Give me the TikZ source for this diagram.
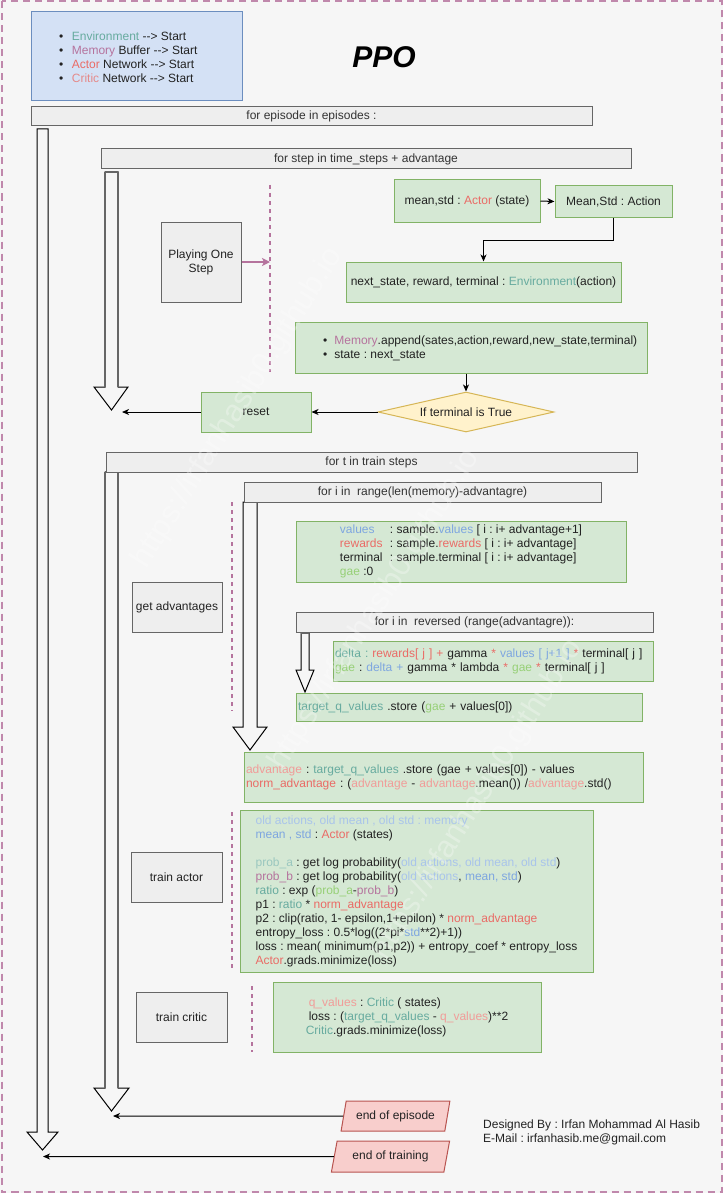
\documentclass[tikz,border=0pt]{standalone}
\usepackage{fontspec}
\setmainfont{Liberation Sans}
\usetikzlibrary{arrows.meta,shapes.geometric,calc}

\definecolor{bg}{HTML}{F6F6F6}
\definecolor{txt}{HTML}{222222}
\definecolor{bartxt}{HTML}{333333}
\definecolor{grnF}{HTML}{D5E8D4}
\definecolor{grnD}{HTML}{82B366}
\definecolor{gryF}{HTML}{EEEEEE}
\definecolor{gryD}{HTML}{666666}
\definecolor{bluF}{HTML}{D4E1F5}
\definecolor{bluD}{HTML}{6C8EBF}
\definecolor{yelF}{HTML}{FFF2CC}
\definecolor{yelD}{HTML}{D6B656}
\definecolor{redF}{HTML}{F8CECC}
\definecolor{redD}{HTML}{B85450}
\definecolor{cteal}{HTML}{67AB9F}
\definecolor{cmem}{HTML}{B5739D}
\definecolor{cred}{HTML}{EA6B66}
\definecolor{cpink}{HTML}{F19C99}
\definecolor{cblue}{HTML}{7EA6E0}
\definecolor{cold}{HTML}{A9C4EB}
\definecolor{cgae}{HTML}{97D077}
\definecolor{cproba}{HTML}{9AC7BF}
\definecolor{ccritic}{HTML}{E58A8A}

% hollow block arrow: shaft x1..x2 from ytop to yhead, head hx1..hx2, tip at ytip
\newcommand{\flowarrow}[8]{%
  \draw[#8] (#1,#3) -- (#2,#3) -- (#2,#4) -- (#6,#4) -- ({(#1+#2)/2},#7) -- (#5,#4) -- (#1,#4) -- cycle;}

\begin{document}
\frenchspacing
\begin{tikzpicture}[x=1pt,y=-1pt,
  every node/.style={font=\fontsize{12}{14}\selectfont, text=txt, inner sep=0pt},
  grnbox/.style={draw=grnD, fill=grnF, line width=1pt},
  grybox/.style={draw=gryD, fill=gryF, line width=1pt},
  loopbar/.style={grybox, text=bartxt},
  conn/.style={draw=black, line width=1pt, -{Stealth[length=7pt,width=6pt,inset=2pt]}},
  guide/.style={draw=cmem, line width=2pt, dash pattern=on 4pt off 4pt},
  bigarrow/.style={draw=black, line width=1pt, fill=bg, line join=miter},
  shaftedge/.style={draw=gryD, line width=2pt},
  endshape/.style={draw=redD, fill=redF, line width=1pt, shape=trapezium,
    trapezium left angle=70, trapezium right angle=110, trapezium stretches=true},
  watermark/.style={font=\fontsize{31}{31}\selectfont, text=white, opacity=0.3, rotate=58},
]

\useasboundingbox (0,0) rectangle (723,1193);
\fill[bg] (0,0) rectangle (723,1193);
\draw[draw=cmem!85, line width=2pt, dash pattern=on 7pt off 5pt] (1.5,1.5) rectangle (721.5,1191.5);

% ---- loop arrows ----
\flowarrow{37}{48}{129}{1132}{27}{58}{1150}{bigarrow}
\flowarrow{105}{118}{172}{387}{94}{128}{410}{bigarrow}
\draw[shaftedge] (105,172) -- (105,387) (118,172) -- (118,387) (105,172) -- (118,172);
\flowarrow{105}{118}{472}{1088}{94}{129}{1111}{bigarrow}
\draw[shaftedge] (105,472) -- (105,1088) (118,472) -- (118,1088) (105,472) -- (118,472);
\flowarrow{243}{257}{502}{727}{233}{267}{750}{bigarrow}
\flowarrow{301}{309}{632}{670}{296}{314}{692}{bigarrow}
\draw[draw=gryD, line width=2.5pt] (301,633) -- (309,633);

\coordinate (steploopend) at (122,412);
\coordinate (trainloopend) at (113,1116);
\coordinate (episodeloopend) at (43,1156.5);

% ---- dashed guides ----
\draw[guide] (270,185) -- (270,372);
\draw[guide] (232,502) -- (232,711);
\draw[guide] (232,812) -- (232,968);
\draw[guide] (252,986) -- (252,1052);

% ---- header ----
\node[draw=bluD, fill=bluF, line width=1pt, minimum width=211pt, minimum height=89pt] (init) at (136.5,56.5) {};
\node[anchor=west, align=left] (inittxt) at (59,57) {%
  \textbullet\hspace{8.5pt}\textcolor{cteal}{Environment} {-}{-}> Start\\
  \textbullet\hspace{8.5pt}\textcolor{cmem}{Memory} Buffer {-}{-}> Start\\
  \textbullet\hspace{8.5pt}\textcolor{cred}{Actor} Network {-}{-}> Start\\
  \textbullet\hspace{8.5pt}\textcolor{ccritic}{Critic} Network {-}{-}> Start};
\node[font=\fontsize{30}{36}\selectfont\bfseries\itshape, text=black] (title) at (384,57) {PPO};

\node[loopbar, minimum width=561pt, minimum height=19pt] (episodes) at (311.5,116.5) {for episode in episodes :};
\node[loopbar, minimum width=530pt, minimum height=20pt] (steps) at (366,159) {for step in time\_steps + advantage};

% ---- playing one step ----
\node[grybox, minimum width=80pt, minimum height=80pt, align=center] (play) at (201,262) {Playing One\\Step};
\coordinate (guidehit) at (270,262);
\draw[draw=cmem, line width=2pt, -{Stealth[length=8pt,width=8pt,inset=2pt]}] (play.east) -- (guidehit);

\node[grnbox, minimum width=146pt, minimum height=42pt] (astate) at (467,201) {mean,std : \textcolor{cred}{Actor} (state)};
\node[grnbox, minimum width=117pt, minimum height=31pt] (action) at (613.5,201.5) {Mean,Std : Action};
\node[grnbox, minimum width=275pt, minimum height=40pt] (env) at (483.5,282) {next\_state, reward, terminal : \textcolor{cteal}{Environment}(action)};
\node[grnbox, minimum width=352pt, minimum height=51pt] (mem) at (471,347.5) {};
\node[anchor=west, align=left] (memtxt) at (323,348.5) {%
  \textbullet\hspace{7pt}\textcolor{cmem}{Memory}.append(sates,action,reward,new\_state,terminal)\\
  \textbullet\hspace{7pt}state : next\_state};
\node[draw=yelD, fill=yelF, line width=1pt, shape=diamond, aspect=4.4, minimum width=176pt, minimum height=40pt] (term) at (466,412) {If terminal is True};
\node[grnbox, minimum width=110pt, minimum height=40pt] (reset) at (256,412) {reset};

\draw[conn] (astate.east) -- (action.west);
\draw[conn] (action.south) -- ++(0,23) -| (env.north);
\draw[conn] (term.north |- mem.south) -- (term.north);
\draw[conn] (term.west) -- (reset.east);
\draw[conn] (reset.west) -- (steploopend);

% ---- training ----
\node[loopbar, minimum width=531pt, minimum height=20pt] (train) at (371.5,462) {for t in train steps};
\node[loopbar, minimum width=357pt, minimum height=20pt] (range) at (422.5,492) {for i in\ \ range(len(memory)-advantagre)};
\node[grnbox, minimum width=330pt, minimum height=61pt, align=left] (sample) at (461,551.5) {%
  \makebox[50pt][l]{\textcolor{cblue}{values}}: sample.\textcolor{cblue}{values} [ i : i+ advantage+1]\\
  \makebox[50pt][l]{\textcolor{cred}{rewards}}: sample.\textcolor{cred}{rewards} [ i : i+ advantage]\\
  \makebox[50pt][l]{terminal}: sample.terminal [ i : i+ advantage]\\
  \textcolor{cgae}{gae} :0};
\node[grybox, minimum width=90pt, minimum height=50pt] (getadv) at (177,607) {get advantages};
\node[loopbar, minimum width=357pt, minimum height=20pt] (reversed) at (474.5,622) {for i in\ \ reversed (range(advantagre)):};
\node[grnbox, text width=316pt, inner xsep=2pt, minimum height=40pt, align=left] (delta) at (493,661) {%
  \textcolor{cteal}{delta :} \textcolor{cred}{rewards[ j ] +} gamma \textcolor{cred}{*} \textcolor{cblue}{values [ j+1 ]} \textcolor{cred}{*} terminal[ j ]\\
  \textcolor{cgae}{gae} : \textcolor{cblue}{delta +} gamma * lambda \textcolor{cred}{*} \textcolor{cgae}{gae} \textcolor{cred}{*} terminal[ j ]};
\node[grnbox, text width=342pt, inner xsep=2pt, minimum height=28pt, align=left] (targetq) at (469,707) {%
  \textcolor{cteal}{target\_q\_values} .store (\textcolor{cgae}{gae} + values[0])};
\node[grnbox, text width=395pt, inner xsep=2pt, minimum height=50pt, align=left] (advantage) at (443.5,777) {%
  \textcolor{cpink}{advantage} : \textcolor{cteal}{target\_q\_values} .store (gae + values[0]) - values\\
  \textcolor{cred}{norm\_advantage} : (\textcolor{cpink}{advantage} - \textcolor{cpink}{advantage}.mean()) /\textcolor{cpink}{advantage}.std()};

\node[grybox, minimum width=91pt, minimum height=50pt] (trainactor) at (176.5,877) {train actor};
\node[grnbox, minimum width=353pt, minimum height=162pt, align=left] (actor) at (416.5,891) {%
  \textcolor{cold}{old actions, old mean , old std : memory}\\
  \textcolor{cblue}{mean , std} : \textcolor{cred}{Actor} (states)\\
  \mbox{}\\
  \textcolor{cproba}{prob\_a} : get log probability(\textcolor{cold}{old actions, old mean, old std})\\
  \textcolor{cmem}{prob\_b} : get log probability(\textcolor{cold}{old actions}, \textcolor{cblue}{mean, std})\\
  \textcolor{cteal}{ratio} : exp (\textcolor{cgae}{prob\_a}-\textcolor{cmem}{prob\_b})\\
  p1 : \textcolor{cteal}{ratio} * \textcolor{cred}{norm\_advantage}\\
  p2 : clip(ratio, 1- epsilon,1+epilon) * \textcolor{cred}{norm\_advantage}\\
  entropy\_loss : 0.5*log((2*pi*\textcolor{cblue}{std}**2)+1))\\
  loss : mean( minimum(p1,p2)) + entropy\_coef * entropy\_loss\\
  \textcolor{cred}{Actor}.grads.minimize(loss)};

\node[grybox, minimum width=91pt, minimum height=50pt] (traincritic) at (181.5,1017) {train critic};
\node[grnbox, minimum width=268pt, minimum height=70pt, align=left] (critic) at (407,1017) {%
  \hspace*{3pt}\textcolor{cpink}{q\_values} : \textcolor{cteal}{Critic} ( states)\\
  \hspace*{3pt}loss : (\textcolor{cteal}{target\_q\_values} - \textcolor{cpink}{q\_values})**2\\
  \textcolor{cteal}{Critic}.grads.minimize(loss)};

% ---- loop ends ----
\node[endshape, minimum width=109pt, minimum height=30pt] (eoe) at (395.5,1116) {end of episode};
\node[endshape, minimum width=119pt, minimum height=31pt] (eot) at (390.5,1156.5) {end of training};
\draw[conn] (eoe) -- (trainloopend);
\draw[conn] (eot) -- (episodeloopend);

\node[anchor=west, align=left] (credits) at (483,1132) {Designed By : Irfan Mohammad Al Hasib\\E-Mail : irfanhasib.me@gmail.com};

% ---- site mark ----
\node[watermark] (wm1) at (238,408) {https://irfanhasib0.github.io};
\node[watermark] (wm2) at (375,610) {https://irfanhasib0.github.io};
\node[watermark] (wm3) at (478,800) {https://irfanhasib0.github.io};
\end{tikzpicture}
\end{document}
